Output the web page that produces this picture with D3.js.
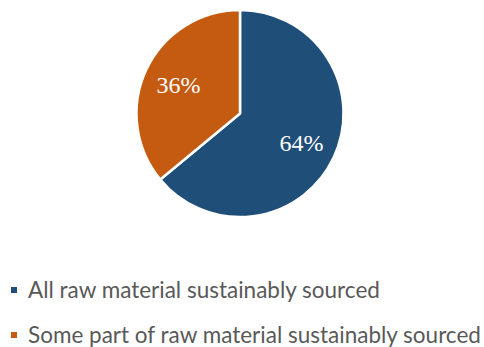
<!DOCTYPE html>
<html>
<head>
<meta charset="utf-8">
<script src="https://cdn.jsdelivr.net/npm/d3@7"></script>
<style>
  body { margin: 0; background: #fff; }
</style>
</head>
<body>
<div id="chart"></div>
<script>
// Sourcing share
const categories = ['All raw material sustainably sourced', 'Some part of raw material sustainably sourced'];
const shares = [64, 36];
const colors = ['#1f4e79', '#c55a11'];

const width = 484, height = 347;
const cx = 240, cy = 113.5, radius = 103.5;

const svg = d3.select('#chart').append('svg')
    .attr('width', width)
    .attr('height', height);

const data = categories.map((c, i) => ({ name: c, value: shares[i], color: colors[i] }));

const pie = d3.pie().sort(null).value(d => d.value);
const arc = d3.arc().innerRadius(0).outerRadius(radius);
const labelArc = d3.arc().innerRadius(68).outerRadius(68);

const g = svg.append('g').attr('transform', `translate(${cx},${cy})`);

const slices = g.selectAll('.slice')
    .data(pie(data))
    .enter().append('g')
    .attr('class', 'slice');

slices.append('path')
    .attr('d', arc)
    .attr('fill', d => d.data.color)
    .attr('stroke', '#fff')
    .attr('stroke-width', 2.5)
    .attr('stroke-linejoin', 'round');

slices.append('text')
    .attr('transform', d => `translate(${labelArc.centroid(d)})`)
    .attr('text-anchor', 'middle')
    .attr('dy', '0.35em')
    .attr('fill', '#fff')
    .style('font-family', '"Liberation Serif", "Times New Roman", serif')
    .style('font-size', '24px')
    .text(d => `${d.data.value}%`);

// Legend
const legend = svg.append('g').attr('class', 'legend');
const rows = legend.selectAll('.row')
    .data(data)
    .enter().append('g')
    .attr('class', 'row')
    .attr('transform', (d, i) => `translate(11,${290 + i * 45})`);

rows.append('rect')
    .attr('x', 0)
    .attr('y', -3)
    .attr('width', 6)
    .attr('height', 6)
    .attr('fill', d => d.color);

rows.append('text')
    .attr('x', 17)
    .attr('dy', '0.35em')
    .attr('fill', '#595959')
    .style('font-family', 'Lato, "Open Sans", sans-serif')
    .style('font-size', '22.5px')
    .text(d => d.name);
</script>
</body>
</html>
